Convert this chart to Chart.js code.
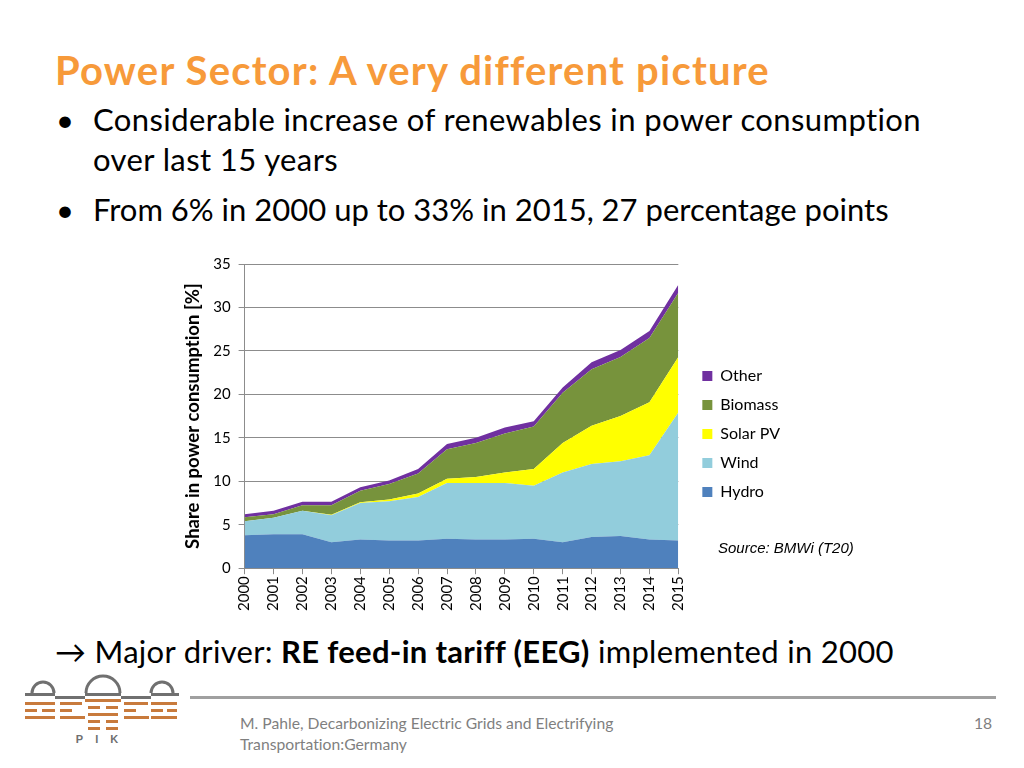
<!DOCTYPE html>
<html>
<head>
<meta charset="utf-8">
<script src="https://cdn.jsdelivr.net/npm/chart.js@4/dist/chart.umd.min.js"></script>
<style>
  body { margin: 0; background: #fff; font-family: Lato, "Open Sans", sans-serif; font-variant-ligatures: none; }
  #slide { position: relative; width: 1024px; height: 768px; overflow: hidden; }
  .abs { position: absolute; white-space: nowrap; }
  #title { left: 55px; top: 46px; font-size: 40px; letter-spacing: 1.2px; font-weight: bold; color: #F79A3A; }
  .txt { font-size: 31px; letter-spacing: 0.4px; color: #000; line-height: 40px; }
  .bullet { position: absolute; left: -37px; }
  #source { left: 718px; top: 539px; font-family: "Liberation Sans", Arial, sans-serif; font-style: italic; font-size: 15px; color: #000; }
  #chartBox { left: 180px; top: 247px; }
  .foot { font-size: 15.7px; color: #7f7f7f; }
</style>
</head>
<body>
<div id="slide">
  <div id="title" class="abs">Power Sector: A very different picture</div>
  <div class="abs txt" style="left:93px; top:99px;"><span class="bullet">•</span>Considerable increase of renewables in power consumption</div>
  <div class="abs txt" style="left:93px; top:139px;">over last 15 years</div>
  <div class="abs txt" style="left:93px; top:189px; letter-spacing:0;"><span class="bullet">•</span>From 6% in 2000 up to 33% in 2015, 27 percentage points</div>

  <div id="chartBox" class="abs"><canvas id="myChart" width="614" height="366"></canvas></div>
  <div id="source" class="abs">Source: BMWi (T20)</div>

  <div class="abs txt" style="left:55px; top:631px; letter-spacing:0.3px;">&#x2192; Major driver: <b>RE feed-in tariff (EEG)</b> implemented in 2000</div>

  <svg class="abs" style="left:20px; top:668px;" width="170" height="80" viewBox="0 0 170 80">
    <g fill="none" stroke="#707070" stroke-width="3">
      <path d="M12 25 a11 11 0 0 1 22 0"/>
      <path d="M66 25 a17 17 0 0 1 34 0"/>
      <path d="M131 25 a11 11 0 0 1 22 0"/>
    </g>
    <g fill="#707070">
      <rect x="5" y="25" width="30" height="3"/><rect x="35" y="28" width="30" height="3"/>
      <rect x="65" y="25" width="36" height="3"/><rect x="101" y="28" width="30" height="3"/>
      <rect x="131" y="25" width="28" height="3"/>
    </g>
    <g fill="#C87A3C">
      <rect x="5" y="34" width="30" height="3"/><rect x="5" y="41" width="12" height="3"/><rect x="22" y="41" width="13" height="3"/>
      <rect x="5" y="48" width="30" height="3"/><rect x="40" y="34" width="22" height="3"/><rect x="40" y="41" width="12" height="3"/>
      <rect x="40" y="48" width="25" height="3"/><rect x="65" y="31" width="36" height="3"/><rect x="68" y="38" width="12" height="3"/>
      <rect x="86" y="38" width="12" height="3"/><rect x="68" y="45" width="30" height="3"/><rect x="68" y="52" width="12" height="3"/>
      <rect x="86" y="52" width="12" height="3"/><rect x="68" y="59" width="12" height="3"/><rect x="86" y="59" width="12" height="3"/>
      <rect x="104" y="34" width="24" height="3"/><rect x="104" y="41" width="12" height="3"/><rect x="104" y="48" width="25" height="3"/>
      <rect x="131" y="34" width="26" height="3"/><rect x="131" y="41" width="12" height="3"/><rect x="147" y="41" width="10" height="3"/>
      <rect x="131" y="48" width="26" height="3"/>
    </g>
    <text x="83" y="75" text-anchor="middle" font-family="Liberation Sans, Arial" font-weight="bold" font-size="11" fill="#707070" letter-spacing="12">PIK</text>
  </svg>
  <div class="abs" style="left:190px; top:696px; width:806px; height:3px; background:#A0A0A0;"></div>
  <div class="abs foot" style="left:240px; top:714px;">M. Pahle, Decarbonizing Electric Grids and Electrifying</div>
  <div class="abs foot" style="left:240px; top:735px;">Transportation:Germany</div>
  <div class="abs foot" style="left:974px; top:714px;">18</div>
</div>

<script>
// shares of power consumption in %
const years = ['2000', '2001', '2002', '2003', '2004', '2005', '2006', '2007',
               '2008', '2009', '2010', '2011', '2012', '2013', '2014', '2015'];
const hydro   = [3.8, 3.9, 3.9, 3.0, 3.3, 3.2, 3.2, 3.4, 3.3, 3.3, 3.4, 3.0, 3.6, 3.7, 3.3, 3.2];
const wind    = [1.6, 1.9, 2.7, 3.1, 4.2, 4.5, 5.0, 6.4, 6.5, 6.5, 6.1, 8.0, 8.4, 8.6, 9.7, 14.7];
const solarPV = [0, 0, 0, 0.05, 0.1, 0.2, 0.4, 0.5, 0.7, 1.2, 1.9, 3.4, 4.4, 5.2, 6.1, 6.4];
const biomass = [0.45, 0.4, 0.65, 1.1, 1.3, 1.8, 2.3, 3.4, 3.9, 4.5, 4.9, 5.8, 6.5, 6.8, 7.4, 7.4];
const other   = [0.35, 0.4, 0.4, 0.4, 0.4, 0.4, 0.5, 0.6, 0.6, 0.7, 0.6, 0.6, 0.8, 0.8, 0.8, 0.9];
const yTicks  = [0, 5, 10, 15, 20, 25, 30, 35];

const seriesList = [
    { label: 'Hydro',    data: hydro,   color: '#4F81BD' },
    { label: 'Wind',     data: wind,    color: '#92CDDC' },
    { label: 'Solar PV', data: solarPV, color: '#FFFF00' },
    { label: 'Biomass',  data: biomass, color: '#77933C' },
    { label: 'Other',    data: other,   color: '#7030A0' }
];

const gridGray = '#8C8C8C';

const ctx = document.getElementById('myChart').getContext('2d');
const chart = new Chart(ctx, {
    type: 'line',
    data: {
        labels: years,
        datasets: seriesList.map((s, i) => ({
            label: s.label,
            data: s.data,
            backgroundColor: s.color,
            borderColor: s.color,
            borderWidth: 0,
            pointRadius: 0,
            tension: 0,
            fill: i === 0 ? 'origin' : '-1'
        }))
    },
    options: {
        responsive: false,
        animation: false,
        layout: { padding: { top: 8, right: 4, left: 2 } },
        scales: {
            x: {
                grid: { drawOnChartArea: false, drawTicks: true, tickLength: 6, color: gridGray },
                border: { color: gridGray },
                ticks: { minRotation: 90, maxRotation: 90, padding: 2, color: '#000', font: { family: 'Lato', size: 15 } }
            },
            y: {
                stacked: true,
                min: yTicks[0],
                max: yTicks[yTicks.length - 1],
                afterBuildTicks: axis => { axis.ticks = yTicks.map(v => ({ value: v })); },
                grid: { color: gridGray, tickLength: 6 },
                border: { color: gridGray },
                ticks: { color: '#000', padding: 8, font: { family: 'Lato', size: 15 } },
                title: {
                    display: true,
                    text: 'Share in power consumption [%]',
                    color: '#000',
                    padding: { top: 0, bottom: 1 },
                    font: { family: 'Lato', size: 18.5, weight: 'bold' }
                }
            },
            // empty axis, only keeps a gap between plot and legend
            gap: {
                type: 'linear',
                position: 'right',
                display: true,
                grid: { display: false },
                border: { display: false },
                ticks: { display: false },
                afterFit: scale => { scale.width = 11; }
            }
        },
        plugins: {
            tooltip: { enabled: false },
            legend: {
                position: 'right',
                reverse: true,
                labels: {
                    boxWidth: 10,
                    boxHeight: 10,
                    padding: 13,
                    color: '#000',
                    font: { family: 'Lato', size: 16 }
                }
            }
        }
    }
});
</script>
</body>
</html>
